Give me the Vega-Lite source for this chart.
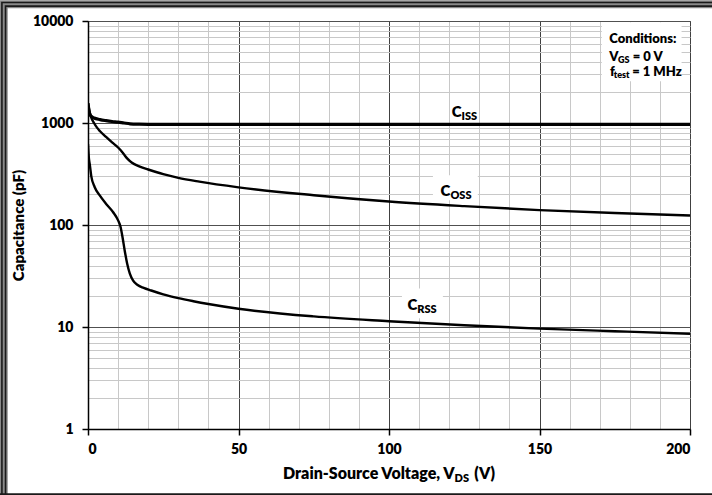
{
  "$schema": "https://vega.github.io/schema/vega-lite/v6.json",
  "width": 602,
  "height": 408,
  "autosize": {"type": "none"},
  "padding": {"left": 88, "top": 21, "right": 22, "bottom": 66},
  "background": "white",
  "config": {"view": {"stroke": "#404040", "strokeWidth": 1}, "font": "Lato"},
  "datasets": {
    "curves": [
      {"s": "Ciss", "x": 0, "y": 1560}, {"s": "Ciss", "x": 0.5, "y": 1250}, {"s": "Ciss", "x": 1, "y": 1170},
      {"s": "Ciss", "x": 2, "y": 1120}, {"s": "Ciss", "x": 4, "y": 1080}, {"s": "Ciss", "x": 6, "y": 1055},
      {"s": "Ciss", "x": 8, "y": 1035}, {"s": "Ciss", "x": 10, "y": 1020}, {"s": "Ciss", "x": 12, "y": 1000},
      {"s": "Ciss", "x": 14, "y": 982}, {"s": "Ciss", "x": 17, "y": 973}, {"s": "Ciss", "x": 20, "y": 970},
      {"s": "Ciss", "x": 50, "y": 970}, {"s": "Ciss", "x": 100, "y": 970}, {"s": "Ciss", "x": 150, "y": 970},
      {"s": "Ciss", "x": 200, "y": 970},
      {"s": "Coss", "x": 0, "y": 1560}, {"s": "Coss", "x": 0.5, "y": 1300}, {"s": "Coss", "x": 1, "y": 1150},
      {"s": "Coss", "x": 2, "y": 1000}, {"s": "Coss", "x": 3, "y": 900}, {"s": "Coss", "x": 4, "y": 830},
      {"s": "Coss", "x": 6, "y": 730}, {"s": "Coss", "x": 8, "y": 645}, {"s": "Coss", "x": 10, "y": 575},
      {"s": "Coss", "x": 11, "y": 535}, {"s": "Coss", "x": 12, "y": 490}, {"s": "Coss", "x": 13, "y": 450},
      {"s": "Coss", "x": 14.5, "y": 410}, {"s": "Coss", "x": 17, "y": 375}, {"s": "Coss", "x": 20, "y": 350},
      {"s": "Coss", "x": 25, "y": 315}, {"s": "Coss", "x": 30, "y": 290}, {"s": "Coss", "x": 37, "y": 266},
      {"s": "Coss", "x": 50, "y": 234}, {"s": "Coss", "x": 75, "y": 196}, {"s": "Coss", "x": 100, "y": 170},
      {"s": "Coss", "x": 125, "y": 153}, {"s": "Coss", "x": 150, "y": 140}, {"s": "Coss", "x": 175, "y": 131},
      {"s": "Coss", "x": 200, "y": 124},
      {"s": "Crss", "x": 0, "y": 620}, {"s": "Crss", "x": 0.3, "y": 450}, {"s": "Crss", "x": 0.6, "y": 390},
      {"s": "Crss", "x": 1.1, "y": 300}, {"s": "Crss", "x": 2.2, "y": 236}, {"s": "Crss", "x": 3.9, "y": 195},
      {"s": "Crss", "x": 6.1, "y": 160}, {"s": "Crss", "x": 8.3, "y": 134}, {"s": "Crss", "x": 10, "y": 111},
      {"s": "Crss", "x": 10.8, "y": 96}, {"s": "Crss", "x": 11.5, "y": 75}, {"s": "Crss", "x": 12.2, "y": 56},
      {"s": "Crss", "x": 13, "y": 42}, {"s": "Crss", "x": 13.9, "y": 33.4}, {"s": "Crss", "x": 15, "y": 28.5},
      {"s": "Crss", "x": 16.5, "y": 25.8}, {"s": "Crss", "x": 18.5, "y": 24.2}, {"s": "Crss", "x": 21, "y": 22.8},
      {"s": "Crss", "x": 25, "y": 20.9}, {"s": "Crss", "x": 30, "y": 19.2}, {"s": "Crss", "x": 35, "y": 17.9},
      {"s": "Crss", "x": 40, "y": 16.8}, {"s": "Crss", "x": 50, "y": 15.1}, {"s": "Crss", "x": 75, "y": 12.7},
      {"s": "Crss", "x": 100, "y": 11.4}, {"s": "Crss", "x": 125, "y": 10.4}, {"s": "Crss", "x": 150, "y": 9.65},
      {"s": "Crss", "x": 175, "y": 9.1}, {"s": "Crss", "x": 200, "y": 8.6}
    ],
    "labels": [
      {"x": 124.1, "y": 1273, "main": "C", "sub": "ISS"},
      {"x": 120.4, "y": 214, "main": "C", "sub": "OSS"},
      {"x": 109.4, "y": 16.5, "main": "C", "sub": "RSS"}
    ],
    "boxes": [
      {"x": 114.6, "x2": 129.5, "y": 307, "y2": 175},
      {"x": 104.3, "x2": 117.9, "y": 23.9, "y2": 12.2},
      {"x": 170.7, "x2": 197.2, "y": 9700, "y2": 2565}
    ],
    "cond": [
      {"x": 173.2, "y": 6620, "t": "Conditions:"},
      {"x": 173.2, "y": 4406, "t": "V"},
      {"x": 181.0, "y": 4406, "t": "= 0 V"},
      {"x": 173.4, "y": 3142, "t": "f"},
      {"x": 180.8, "y": 3142, "t": "= 1 MHz"}
    ],
    "condsub": [
      {"x": 176.1, "y": 4406, "t": "GS"},
      {"x": 174.7, "y": 3142, "t": "test"}
    ],
    "xtitle": [
      {"x": 121.8, "y": 0.36, "t": "Drain-Source Voltage, V", "k": "main"},
      {"x": 128.3, "y": 0.36, "t": "(V)", "k": "tail"},
      {"x": 121.8, "y": 0.36, "t": "DS", "k": "sub"}
    ],
    "frame": [
      {"k": "wide", "x": -28.0, "x2": 212, "y": 14580, "y2": 0.15},
      {"k": "outer", "x": -28.6, "x2": 212, "y": 15185, "y2": 0.15},
      {"k": "inner", "x": -27.4, "x2": 212, "y": 14000, "y2": 0.15},
      {"k": "bottom", "x": -30, "x2": 212, "y": 0.229, "y2": 0.229}
    ]
  },
  "encoding": {
    "x": {
      "field": "x", "type": "quantitative",
      "scale": {"domain": [0, 200], "nice": false, "zero": false},
      "axis": {
        "title": null,
        "values": [0, 10, 20, 30, 40, 50, 60, 70, 80, 90, 100, 110, 120, 130, 140, 150, 160, 170, 180, 190, 200],
        "grid": true,
        "gridColor": {"condition": {"test": "datum.value % 50 === 0", "value": "#404040"}, "value": "#c8c8c8"},
        "gridWidth": 1,
        "domainColor": "black", "domainWidth": 1.5,
        "tickColor": {"condition": {"test": "datum.value % 50 === 0", "value": "black"}, "value": "transparent"},
        "tickSize": 6, "tickWidth": 1.5,
        "labelExpr": "datum.value % 50 === 0 ? datum.label : ''",
        "labelFont": "Lato", "labelFontWeight": 800, "labelFontSize": 14, "labelColor": "black",
        "labelPadding": 7
      }
    },
    "y": {
      "field": "y", "type": "quantitative",
      "scale": {"type": "log", "domain": [1, 10000], "nice": false},
      "axis": {
        "title": "Capacitance (pF)",
        "values": [1, 2, 3, 4, 5, 6, 7, 8, 9, 10, 20, 30, 40, 50, 60, 70, 80, 90, 100, 200, 300, 400, 500, 600, 700, 800, 900, 1000, 2000, 3000, 4000, 5000, 6000, 7000, 8000, 9000, 10000],
        "grid": true,
        "gridColor": {"condition": {"test": "indexof([1,10,100,1000,10000], datum.value) >= 0", "value": "#505050"}, "value": "#c8c8c8"},
        "gridWidth": 1,
        "domainColor": "black", "domainWidth": 1.5,
        "tickColor": {"condition": {"test": "indexof([1,10,100,1000,10000], datum.value) >= 0", "value": "black"}, "value": "transparent"},
        "tickSize": 6, "tickWidth": 1.5,
        "labelExpr": "indexof([1,10,100,1000,10000], datum.value) >= 0 ? format(datum.value, 'd') : ''",
        "labelFont": "Lato", "labelFontWeight": 800, "labelFontSize": 14, "labelColor": "black",
        "labelPadding": 9,
        "titleFont": "Lato", "titleFontWeight": 800, "titleFontSize": 15, "titleColor": "black",
        "titlePadding": 6
      }
    }
  },
  "layer": [
    {
      "data": {"name": "boxes"},
      "mark": {"type": "rect", "fill": "white", "stroke": null},
      "encoding": {"x2": {"field": "x2"}, "y2": {"field": "y2"}}
    },
    {
      "data": {"name": "curves"},
      "mark": {"type": "line", "interpolate": "monotone", "color": "black", "clip": true},
      "encoding": {
        "detail": {"field": "s"},
        "strokeWidth": {"condition": {"test": "datum.s === 'Ciss'", "value": 3.2}, "value": 2.4}
      }
    },
    {
      "data": {"name": "labels"},
      "mark": {"type": "text", "align": "right", "baseline": "middle", "font": "Lato", "fontWeight": 800, "fontSize": 15, "color": "black"},
      "encoding": {"text": {"field": "main"}}
    },
    {
      "data": {"name": "labels"},
      "mark": {"type": "text", "align": "left", "baseline": "middle", "dy": 5, "font": "Lato", "fontWeight": 800, "fontSize": 11, "color": "black"},
      "encoding": {"text": {"field": "sub"}}
    },
    {
      "data": {"name": "cond"},
      "mark": {"type": "text", "align": "left", "baseline": "middle", "font": "Lato", "fontWeight": 800, "fontSize": 13, "color": "black"},
      "encoding": {"text": {"field": "t"}}
    },
    {
      "data": {"name": "condsub"},
      "mark": {"type": "text", "align": "left", "baseline": "middle", "dy": 3, "font": "Lato", "fontWeight": 800, "fontSize": 9, "color": "black"},
      "encoding": {"text": {"field": "t"}}
    },
    {
      "data": {"name": "xtitle"},
      "transform": [{"filter": "datum.k === 'main'"}],
      "mark": {"type": "text", "align": "right", "baseline": "middle", "font": "Lato", "fontWeight": 800, "fontSize": 16, "color": "black"},
      "encoding": {"text": {"field": "t"}}
    },
    {
      "data": {"name": "xtitle"},
      "transform": [{"filter": "datum.k === 'tail'"}],
      "mark": {"type": "text", "align": "left", "baseline": "middle", "font": "Lato", "fontWeight": 800, "fontSize": 16, "color": "black"},
      "encoding": {"text": {"field": "t"}}
    },
    {
      "data": {"name": "xtitle"},
      "transform": [{"filter": "datum.k === 'sub'"}],
      "mark": {"type": "text", "align": "left", "baseline": "middle", "dy": 5, "font": "Lato", "fontWeight": 800, "fontSize": 11, "color": "black"},
      "encoding": {"text": {"field": "t"}}
    },
    {
      "data": {"name": "frame"},
      "transform": [{"filter": "datum.k === 'wide'"}],
      "mark": {"type": "rect", "filled": false, "stroke": "#8a8a8a", "strokeWidth": 8},
      "encoding": {"x2": {"field": "x2"}, "y2": {"field": "y2"}}
    },
    {
      "data": {"name": "frame"},
      "transform": [{"filter": "datum.k === 'outer' || datum.k === 'inner'"}],
      "mark": {"type": "rect", "filled": false, "stroke": "#1a1a1a", "strokeWidth": 1.6},
      "encoding": {"x2": {"field": "x2"}, "y2": {"field": "y2"}}
    },
    {
      "data": {"name": "frame"},
      "transform": [{"filter": "datum.k === 'bottom'"}],
      "mark": {"type": "rule", "stroke": "#1a1a1a", "strokeWidth": 2},
      "encoding": {"x2": {"field": "x2"}}
    }
  ]
}
